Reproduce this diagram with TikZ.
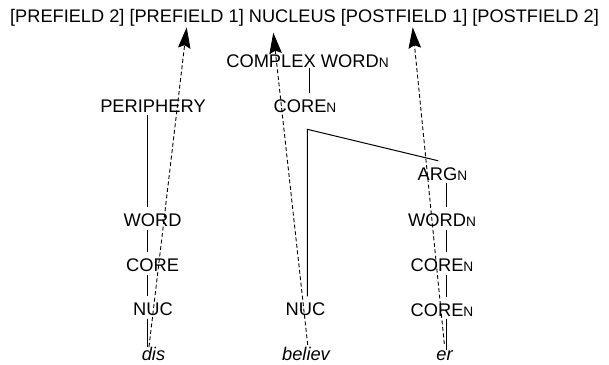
\documentclass[tikz,border=0pt]{standalone}
\usepackage{fontspec}
\setmainfont{Liberation Sans}
\usetikzlibrary{arrows.meta}
\newcommand\subN{{\fontsize{13.7}{13.7}\selectfont N}}
\tikzset{
  lbl/.style={font=\fontsize{18.3}{18.3}\selectfont, anchor=base, inner sep=0pt,
              text height=19pt, text depth=3pt},
  leaf/.style={font=\fontsize{18.3}{18.3}\selectfont\itshape, anchor=base, inner sep=0pt,
              text height=13pt, text depth=0pt},
  tree/.style={line width=1pt},
  darr/.style={line width=0.9pt, dash pattern=on 4pt off 2.5pt,
               -{Stealth[length=21pt,width=12.5pt,inset=3pt]}}
}
\begin{document}
\begin{tikzpicture}[x=1pt,y=-1pt]
\useasboundingbox (0,0) rectangle (609,364);

% layer template
\node[anchor=base, inner sep=0pt, font=\fontsize{18.2}{18.2}\selectfont] (top) at (304.5,22)
  {[PREFIELD 2] [PREFIELD 1] NUCLEUS [POSTFIELD 1] [POSTFIELD 2]};

% prefix column
\node[lbl] (per)   at (153,112)   {PERIPHERY};
\node[lbl] (word1) at (152.5,226.5) {WORD};
\node[lbl] (core1) at (152.6,271.5) {CORE};
\node[lbl] (nuc1)  at (153,315.5) {NUC};
\node[leaf] (dis)  at (153.5,360) {dis};

% complex word
\node[lbl] (cw)    at (307.5,67)  {COMPLEX WORD\subN};
\node[lbl] (coreN) at (305,112)   {CORE\subN};
\node[lbl] (nuc2)  at (305.5,315.5) {NUC};
\node[leaf] (bel)  at (306,360)   {believ};

% argument column
\node[lbl] (arg)    at (442.5,180)   {ARG\subN};
\node[lbl] (wordN)  at (442,226.5)   {WORD\subN};
\node[lbl] (coreNa) at (442,271.5)   {CORE\subN};
\node[lbl] (coreNb) at (442,316)     {CORE\subN};
\node[leaf, text height=10pt] (er) at (444.5,360) {er};

% x positions of the vertical branches
\coordinate (x1) at (147.5,0);
\coordinate (xc) at (309,0);
\coordinate (x3) at (446.7,0);
\coordinate (xa) at (438.3,0);
\coordinate (bend) at (307.3,129.3);

% tree branches
\draw[tree] (per.south -| x1) -- (word1.north -| x1);
\draw[tree] (word1.south -| x1) -- (core1.north -| x1);
\draw[tree] (core1.south -| x1) -- (nuc1.north -| x1);
\draw[tree] (nuc1.south -| x1) -- (dis.north -| x1);

\draw[tree] ([yshift=2pt]cw.south -| xc) -- (coreN.north -| xc);
\draw[tree] (arg.north -| xa) -- (bend) -- (nuc2.north -| bend);

\draw[tree] (arg.south -| x3) -- (wordN.north -| x3);
\draw[tree] (wordN.south -| x3) -- (coreNa.north -| x3);
\draw[tree] (coreNa.south -| x3) -- (coreNb.north -| x3);
\draw[tree] (coreNb.south -| x3) -- (er.north -| x3);

% arrows into the layers of the template
\coordinate (t1) at (186.7,27.3);
\coordinate (t2) at (273.3,32.7);
\coordinate (t3) at (412.7,27.3);
\draw[darr] ([xshift=-4.5pt]dis.north) -- (t1);
\draw[darr] ([xshift=1.7pt,yshift=2pt]bel.north) -- (t2);
\draw[darr] ([xshift=-0.2pt,yshift=6pt]er.north) -- (t3);
\end{tikzpicture}
\end{document}
